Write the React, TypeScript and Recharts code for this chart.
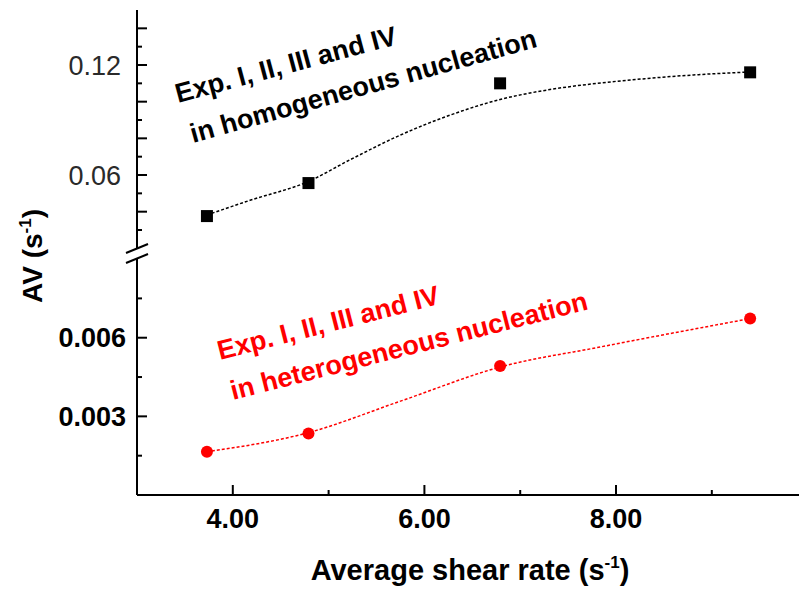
import React from "react";
import { ComposedChart, Line, Scatter, XAxis, YAxis } from "recharts";

// measured points
const shearRate = [3.73, 4.79, 6.79, 9.4];
const homoAV = [0.0376, 0.0556, 0.11, 0.116];
const heteroAV = [0.00165, 0.00235, 0.00492, 0.00673];

// fitted curves
const homoFitX = [3.73, 4.18, 4.79, 5.22, 5.75, 6.27, 6.79, 7.31, 7.84, 8.36, 8.88, 9.4];
const homoFitY = [0.0382, 0.0462, 0.0565, 0.0682, 0.0818, 0.0927, 0.1012, 0.1066, 0.1102, 0.1128, 0.1148, 0.1162];
const heteroFitX = [3.73, 4.79, 5.75, 6.79, 7.84, 9.4];
const heteroFitY = [0.00165, 0.00238, 0.00358, 0.00488, 0.00565, 0.00673];

// ticks
const xTicks = [4, 5, 6, 7, 8, 9];
const xLabelled = [4, 6, 8];
const topTicks = [0.03, 0.04, 0.05, 0.06, 0.07, 0.08, 0.09, 0.1, 0.11, 0.12, 0.13, 0.14];
const topMajor = [0.04, 0.06, 0.08, 0.1, 0.12, 0.14];
const topLabelled = [0.06, 0.12];
const bottomTicks = [0.0015, 0.003, 0.0045, 0.006, 0.0075];
const bottomLabelled = [0.003, 0.006];

const FONT = "'Liberation Sans', Arial, Helvetica, sans-serif";
const X_DOMAIN: [number, number] = [3, 9.91];

const toPts = (xs: number[], ys: number[]) => xs.map((x, i) => ({ x, y: ys[i] }));
const homoPts = toPts(shearRate, homoAV);
const heteroPts = toPts(shearRate, heteroAV);
const homoFit = toPts(homoFitX, homoFitY);
const heteroFit = toPts(heteroFitX, heteroFitY);

const TopTick = (props: any) => {
  const { x, y, payload } = props;
  const v = payload.value;
  const major = topMajor.includes(v);
  return (
    <g>
      <line x1={x} x2={x + (major ? 10 : 5)} y1={y} y2={y} stroke="#000" strokeWidth={2} />
      {topLabelled.includes(v) && (
        <text x={x - 16} y={y} dy="0.36em" textAnchor="end" fontSize={27} fontFamily={FONT} fill="#2a2a2a">
          {v.toFixed(2)}
        </text>
      )}
    </g>
  );
};

const BottomTick = (props: any) => {
  const { x, y, payload } = props;
  const v = payload.value;
  const major = bottomLabelled.includes(v);
  return (
    <g>
      <line x1={x} x2={x + (major ? 10 : 5)} y1={y} y2={y} stroke="#000" strokeWidth={2} />
      {major && (
        <text x={x - 11} y={y} dy="0.36em" textAnchor="end" fontSize={27} fontWeight="bold" fontFamily={FONT} fill="#000">
          {v.toFixed(3)}
        </text>
      )}
    </g>
  );
};

const XTick = (props: any) => {
  const { x, y, payload } = props;
  const v = payload.value;
  const major = xLabelled.includes(v);
  return (
    <g>
      <line x1={x} x2={x} y1={y} y2={y - (major ? 10 : 5)} stroke="#000" strokeWidth={2} />
      {major && (
        <text x={x} y={y + 33} textAnchor="middle" fontSize={27} fontWeight="bold" fontFamily={FONT} fill="#000">
          {v.toFixed(2)}
        </text>
      )}
    </g>
  );
};

const Square = (props: any) => <rect x={props.cx - 6} y={props.cy - 6} width={12} height={12} fill="#000" />;
const Dot = (props: any) => <circle cx={props.cx} cy={props.cy} r={6} fill="#ff0000" />;

export default function App() {
  return (
    <div style={{ position: "absolute", left: 0, top: 0, width: 799, height: 589, background: "#fff", overflow: "hidden" }}>
      {/* upper segment of the broken axis */}
      <div style={{ position: "absolute", left: 0, top: 0 }}>
        <ComposedChart width={799} height={260} margin={{ top: 10, right: 0, bottom: 10, left: 0 }}>
          <XAxis type="number" dataKey="x" domain={X_DOMAIN} allowDataOverflow hide />
          <YAxis
            type="number"
            dataKey="y"
            width={137}
            domain={[0.0191, 0.15]}
            allowDataOverflow
            ticks={topTicks}
            interval={0}
            tickSize={0}
            tickMargin={0}
            tickLine={false}
            tick={TopTick}
            axisLine={{ stroke: "#000", strokeWidth: 2 }}
          />
          <Line data={homoFit} type="monotone" dataKey="y" stroke="#000" strokeWidth={1.5} strokeDasharray="3 2" dot={false} isAnimationActive={false} />
          <Scatter data={homoPts} dataKey="y" shape={Square} isAnimationActive={false} />
        </ComposedChart>
      </div>
      {/* lower segment */}
      <div style={{ position: "absolute", left: 0, top: 250 }}>
        <ComposedChart width={799} height={339} margin={{ top: 2, right: 0, bottom: 0, left: 0 }}>
          <XAxis
            type="number"
            dataKey="x"
            domain={X_DOMAIN}
            allowDataOverflow
            height={94}
            ticks={xTicks}
            interval={0}
            tickSize={0}
            tickMargin={0}
            tickLine={false}
            tick={XTick}
            axisLine={{ stroke: "#000", strokeWidth: 2 }}
            label={{
              content: () => (
                <text x={470} y={330} textAnchor="middle" fontSize={29} fontWeight="bold" fontFamily={FONT} fill="#000">
                  Average shear rate (s
                  <tspan dy={-12} fontSize={17}>-1</tspan>
                  <tspan dy={12}>)</tspan>
                </text>
              ),
            }}
          />
          <YAxis
            type="number"
            dataKey="y"
            width={137}
            domain={[0, 0.00927]}
            allowDataOverflow
            ticks={bottomTicks}
            interval={0}
            tickSize={0}
            tickMargin={0}
            tickLine={false}
            tick={BottomTick}
            axisLine={{ stroke: "#000", strokeWidth: 2 }}
          />
          <Line data={heteroFit} type="monotone" dataKey="y" stroke="#ff0000" strokeWidth={1.5} strokeDasharray="3 2" dot={false} isAnimationActive={false} />
          <Scatter data={heteroPts} dataKey="y" shape={Dot} isAnimationActive={false} />
        </ComposedChart>
      </div>
      {/* break mark, axis title, annotations */}
      <svg width={799} height={589} style={{ position: "absolute", left: 0, top: 0, pointerEvents: "none" }}>
        <polygon points="126,253 148,244 148,254 126,263" fill="#fff" />
        <line x1={126} y1={253} x2={148} y2={244} stroke="#000" strokeWidth={2} />
        <line x1={126} y1={263} x2={148} y2={254} stroke="#000" strokeWidth={2} />
        <text x={42} y={256} transform="rotate(-90 42 256)" textAnchor="middle" fontSize={28} fontWeight="bold" fontFamily={FONT} fill="#000">
          AV (s<tspan dy={-11} fontSize={17}>-1</tspan>
          <tspan dy={11}>)</tspan>
        </text>
        <g fontFamily={FONT} fontWeight="bold" fontSize={27}>
          <text x={178} y={103} transform="rotate(-15 178 103)" fill="#000">Exp. I, II, III and IV</text>
          <text x={193} y={143} transform="rotate(-15.6 193 143)" fill="#000">in homogeneous nucleation</text>
          <text x={220} y={360} transform="rotate(-14.3 220 360)" fill="#ff0000">Exp. I, II, III and IV</text>
          <text x={233} y={400} transform="rotate(-14.3 233 400)" fill="#ff0000">in heterogeneous nucleation</text>
        </g>
      </svg>
    </div>
  );
}
